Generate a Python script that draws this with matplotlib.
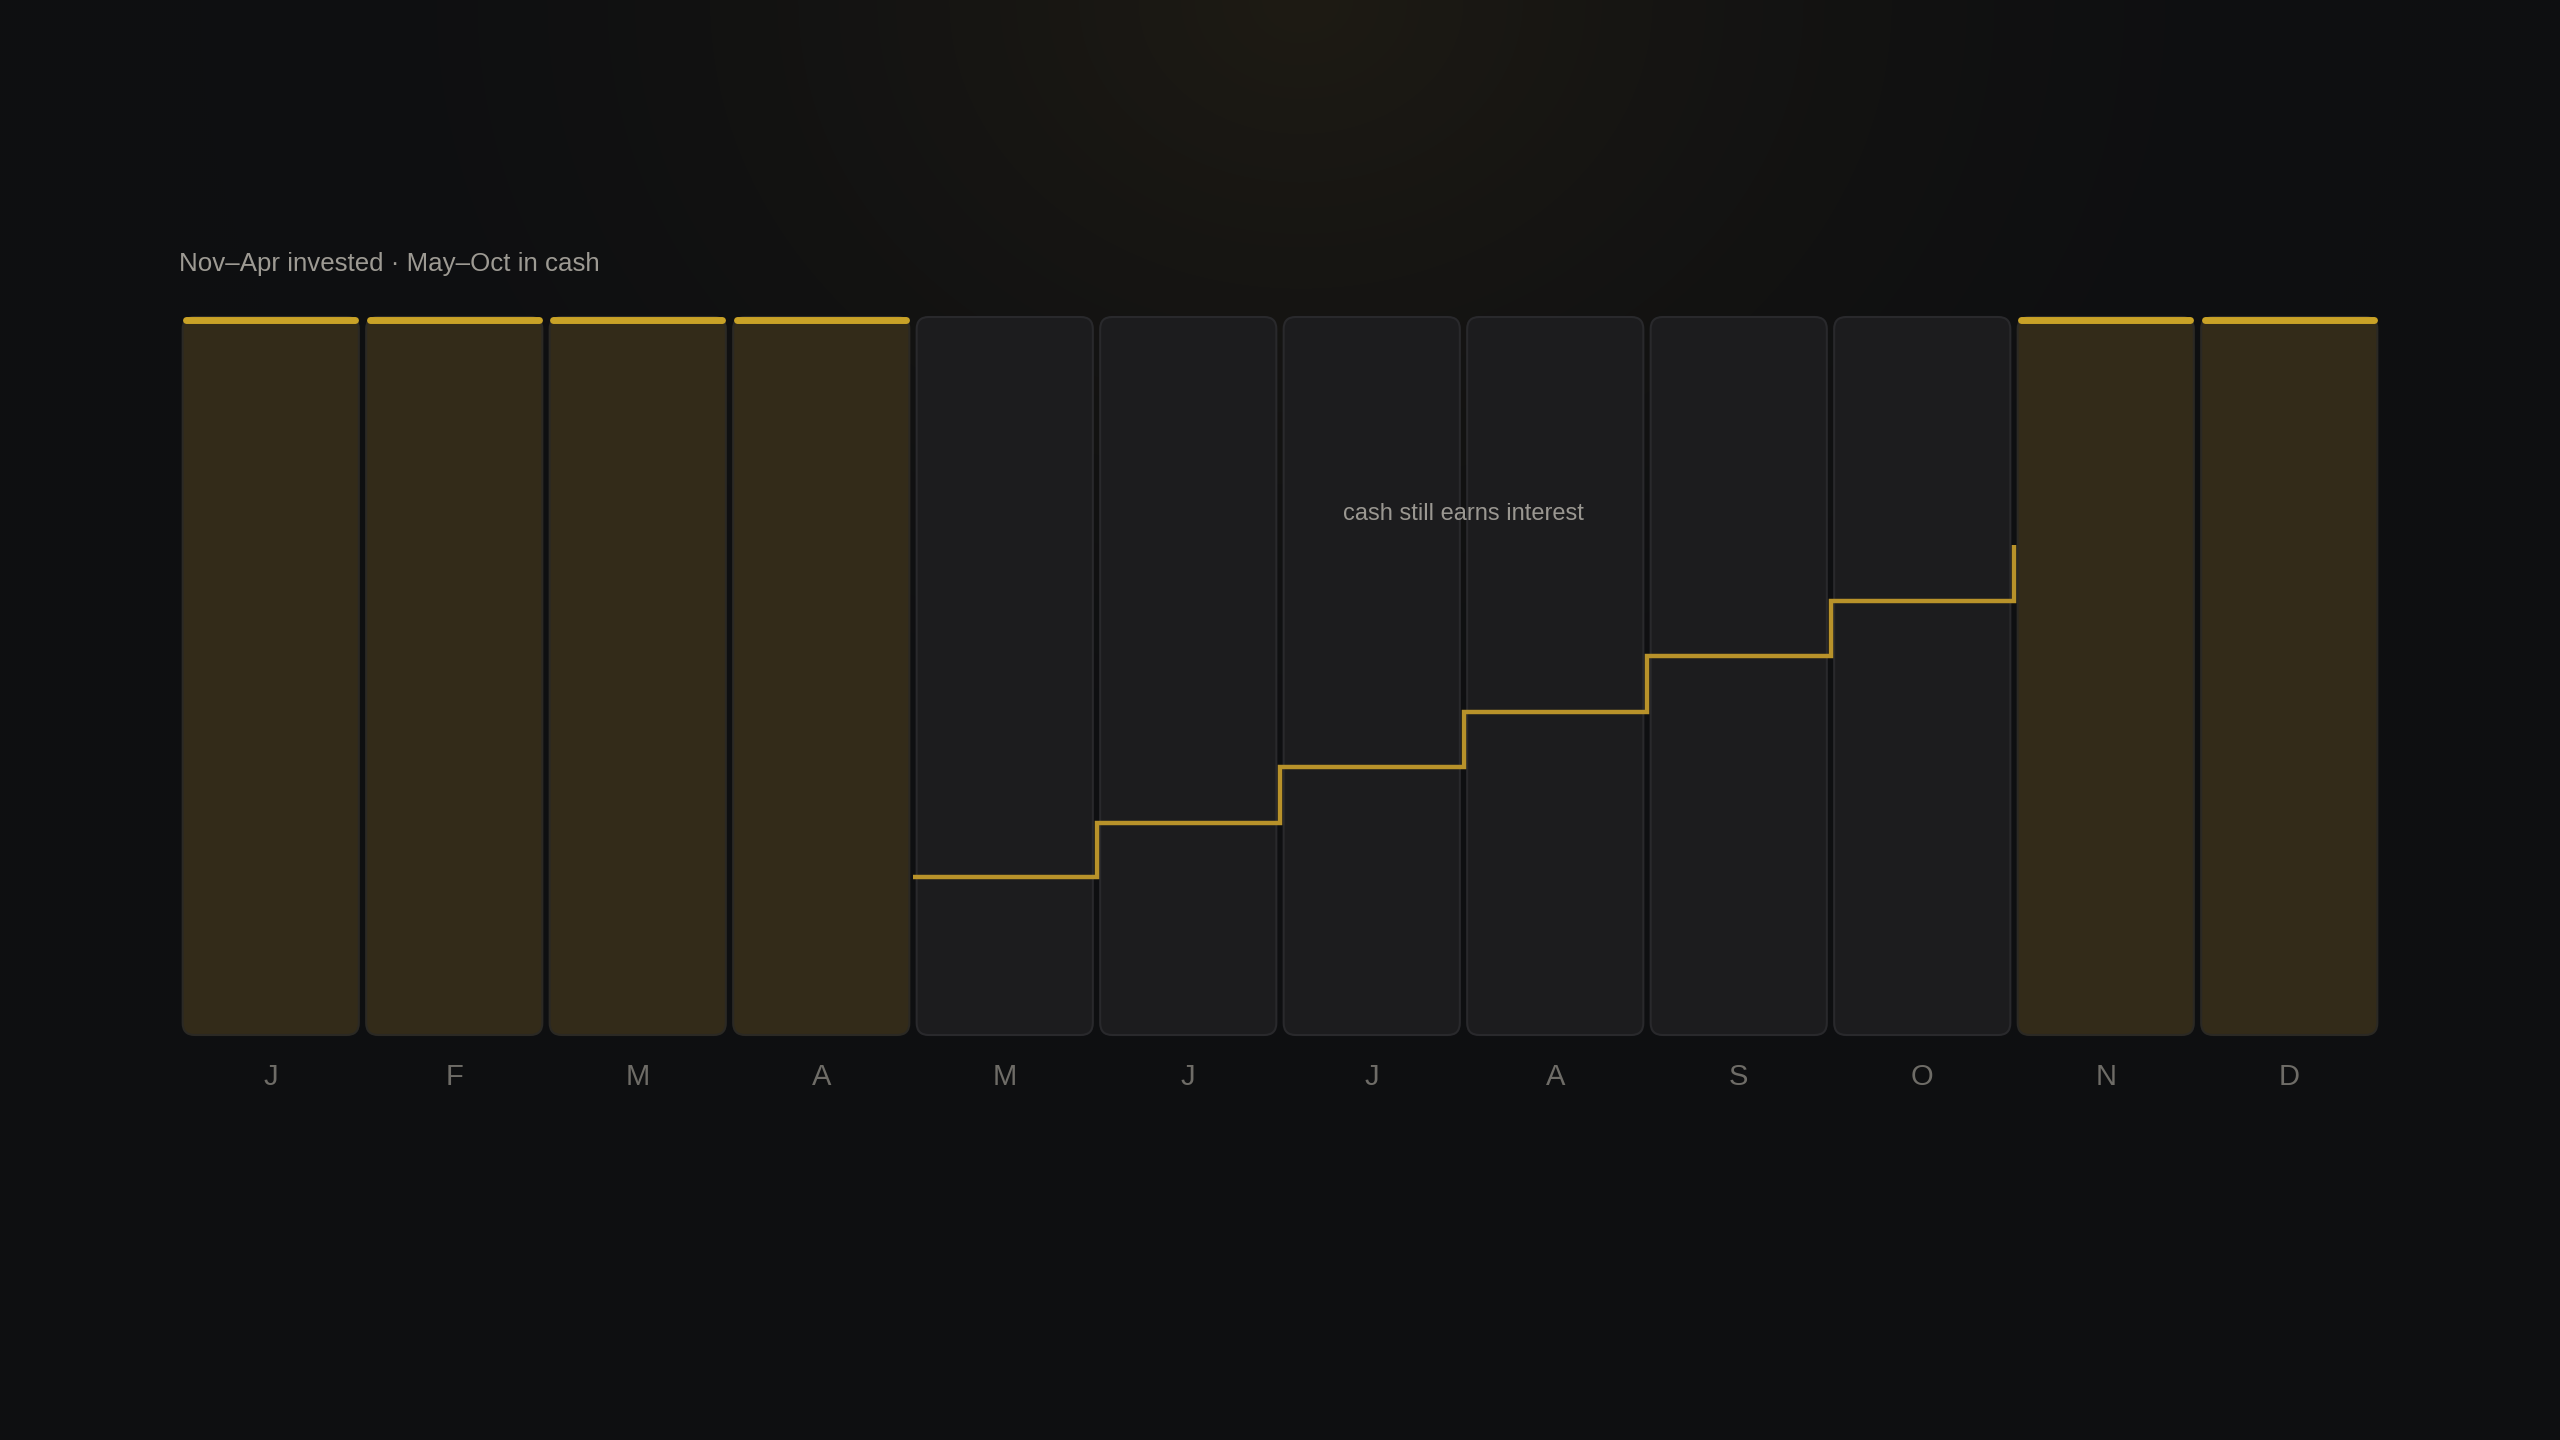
import numpy as np
import matplotlib
matplotlib.use("Agg")
import matplotlib.pyplot as plt
from matplotlib.patches import FancyBboxPatch

plt.rcParams['font.family'] = ['Liberation Sans', 'DejaVu Sans']

# data
months = ['J', 'F', 'M', 'A', 'M', 'J', 'J', 'A', 'S', 'O', 'N', 'D']
invested = [1, 1, 1, 1, 0, 0, 0, 0, 0, 0, 1, 1]
cash_months = [4, 5, 6, 7, 8, 9]
cash_levels = [22.0, 29.5, 37.3, 45.0, 52.8, 60.4]
cash_end_level = 68.2
full_level = 100
title = "Nov\u2013Apr invested \u00b7 May\u2013Oct in cash"
note = "cash still earns interest"

BG = '#0e0f11'
GOLD = '#c9a227'
LINE_GOLD = '#b8922a'
INV_FILL = '#332b19'
INV_EDGE = '#2b2924'
CASH_FILL = '#1c1c1e'
CASH_EDGE = '#29292c'

W, H, DPI = 25.6, 14.4, 100
fig = plt.figure(figsize=(W, H), dpi=DPI, facecolor=BG)

# background with a soft warm glow at the top centre
bg = fig.add_axes([0, 0, 1, 1])
bg.set_axis_off()
yy, xx = np.mgrid[0:1440:2, 0:2560:2]
d = np.sqrt(((xx - 1300) / 1100.0) ** 2 + ((yy - 0) / 900.0) ** 2)
t = np.clip(1 - d, 0, 1) ** 1.8
c0 = np.array([0x0e, 0x0f, 0x11]) / 255.0
c1 = np.array([0x1e, 0x1b, 0x14]) / 255.0
img = c0[None, None, :] * (1 - t[..., None]) + c1[None, None, :] * t[..., None]
bg.imshow(img, extent=[0, 1, 0, 1], aspect='auto', origin='upper', interpolation='bilinear')
bg.set_xlim(0, 1)
bg.set_ylim(0, 1)

ax = fig.add_axes([179 / 2560, (1440 - 1035) / 1440, (2381 - 179) / 2560, (1035 - 317) / 1440])
ax.set_facecolor('none')
ax.set_xlim(-0.5, 11.5)
ax.set_ylim(0, full_level)
for s in ax.spines.values():
    s.set_visible(False)
ax.set_yticks([])

# pixel scale for rounded corners
px_x = (2381 - 179) / 12.0
px_y = (1035 - 317) / full_level
bar_w = 0.96
radius_px = 12
for i, inv in enumerate(invested):
    fill = INV_FILL if inv else CASH_FILL
    edge = INV_EDGE if inv else CASH_EDGE
    p = FancyBboxPatch((i - bar_w / 2, 0), bar_w, full_level,
                       boxstyle=f"round,pad=0,rounding_size={radius_px / px_x}",
                       mutation_aspect=px_x / px_y,
                       facecolor=fill, edgecolor=edge, linewidth=1.5, clip_on=False)
    ax.add_patch(p)
    if inv:
        ax.plot([i - bar_w / 2 + 0.02, i + bar_w / 2 - 0.02], [full_level - 0.45] * 2,
                color=GOLD, lw=5, solid_capstyle='round', clip_on=False, zorder=3)

# cash step line
xs, ys = [], []
for m, lvl in zip(cash_months, cash_levels):
    xs += [m - 0.5, m + 0.5]
    ys += [lvl, lvl]
xs.append(cash_months[-1] + 0.5)
ys.append(cash_end_level)
ax.plot(xs, ys, color=LINE_GOLD, lw=3.2, solid_joinstyle='miter',
        solid_capstyle='butt', zorder=4, clip_on=False)

ax.text(6.5, 72.5, note, ha='center', va='center', fontsize=17, color='#9a9791')

ax.set_xticks(range(len(months)))
ax.set_xticklabels(months, fontsize=21, color='#6e6c67')
ax.tick_params(axis='x', length=0, pad=20)

ax.text(0, 1 + (317 - 264) / 718.0, title, transform=ax.transAxes, ha='left', va='center',
        fontsize=18.6, color='#9d9a93')

fig.savefig('out.png', dpi=DPI, facecolor=BG)
